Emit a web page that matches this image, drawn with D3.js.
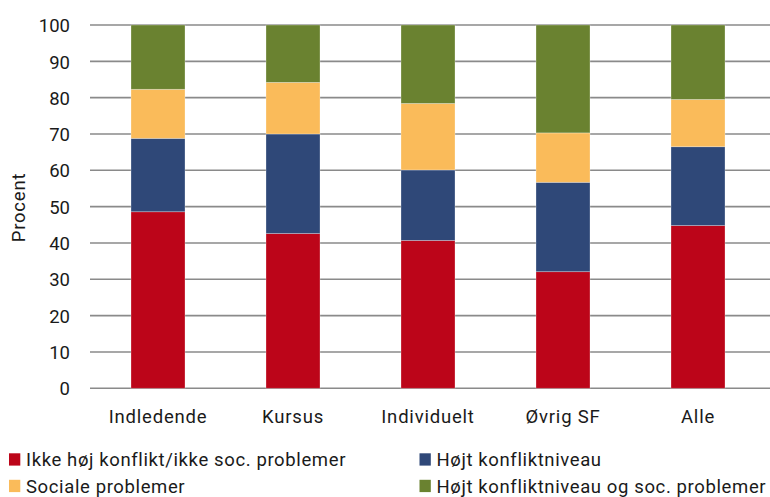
<!DOCTYPE html>
<html><head><meta charset="utf-8">
<script src="https://cdn.jsdelivr.net/npm/d3@7"></script>
<style>body{margin:0;background:#fff}svg{display:block}text{font-family:Roboto,"DejaVu Sans",sans-serif;fill:#1a1a1a}</style>
</head><body><svg id="c" width="770" height="497"></svg>
<script>
const categories = ["Indledende","Kursus","Individuelt","Øvrig SF","Alle"];
const seriesNames = ["Ikke høj konflikt/ikke soc. problemer","Højt konfliktniveau","Sociale problemer","Højt konfliktniveau og soc. problemer"];
const ikkeHoj   = [48.6, 42.6, 40.7, 32.1, 44.8];
const hojtKonf  = [20.2, 27.4, 19.4, 24.6, 21.7];
const sociale   = [13.5, 14.2, 18.3, 13.6, 13.0];
const hojtOgSoc = [17.7, 15.8, 21.6, 29.7, 20.5];
const yTicks = [0,10,20,30,40,50,60,70,80,90,100];
const colors = ["#BC0519","#2F4878","#FABB5A","#6A8230"];

const FS = 18.5, LS = 0.8, LLS = 0.62;
const keys = ["a","b","c","d"];
const rows = categories.map((c,i)=>({cat:c,a:ikkeHoj[i],b:hojtKonf[i],c:sociale[i],d:hojtOgSoc[i]}));
const stack = d3.stack().keys(keys)(rows);

const svg = d3.select("#c");
const x = d3.scaleBand().domain(categories).range([90.5,765.5]).paddingInner(0.6).paddingOuter(0.3);
const y = d3.scaleLinear().domain([0,100]).range([388.3,25]);

// gridlines
svg.append("g").selectAll("line").data(yTicks).join("line")
  .attr("x1",90).attr("x2",770).attr("y1",d=>y(d)).attr("y2",d=>y(d))
  .attr("stroke","#8a8a8a").attr("stroke-width",1.6);

// y tick labels
const yAxis = d3.axisLeft(y).tickValues(yTicks).tickSize(0).tickPadding(20);
const ga = svg.append("g").attr("transform","translate(90,0)").call(yAxis);
ga.select(".domain").remove();
ga.selectAll("text").style("font-size",FS+"px").style("font-family","Roboto,sans-serif")
  .attr("fill","#1a1a1a").attr("dy","0.36em");

// bars
svg.append("g").selectAll("g").data(stack).join("g")
  .attr("fill",(d,i)=>colors[i])
  .selectAll("rect").data(d=>d).join("rect")
  .attr("x",d=>x(d.data.cat)).attr("width",x.bandwidth())
  .attr("y",d=>y(d[1])).attr("height",d=>y(d[0])-y(d[1]))
  .attr("stroke","rgba(255,255,255,0.35)").attr("stroke-width",0.8);

// x labels
const xAxis = d3.axisBottom(x).tickSize(0).tickPadding(0);
const gx = svg.append("g").attr("transform","translate(0,388.3)").call(xAxis);
gx.select(".domain").remove();
gx.selectAll("text").style("font-size",FS+"px").style("font-family","Roboto,sans-serif")
  .style("letter-spacing",LS+"px").attr("fill","#1a1a1a").attr("y",34.7).attr("dy",null);

// y title
svg.append("text").attr("transform","translate(25,207.5) rotate(-90)")
  .attr("text-anchor","middle").style("font-size",FS+"px").style("letter-spacing",LS+"px").text("Procent");

// legend
const legPos = [[9,466],[419.5,466],[9,492.5],[419.5,492.5]];
const order = [0,1,2,3];
const lg = svg.append("g").selectAll("g").data(order).join("g")
  .attr("transform",d=>`translate(${legPos[d][0]},${legPos[d][1]})`);
lg.append("rect").attr("x",0).attr("y",-12.7).attr("width",11.3).attr("height",12.3).attr("fill",d=>colors[d]);
lg.append("text").attr("x",17).attr("y",0).style("font-size",FS+"px").style("letter-spacing",LLS+"px").text(d=>seriesNames[d]);
</script></body></html>
